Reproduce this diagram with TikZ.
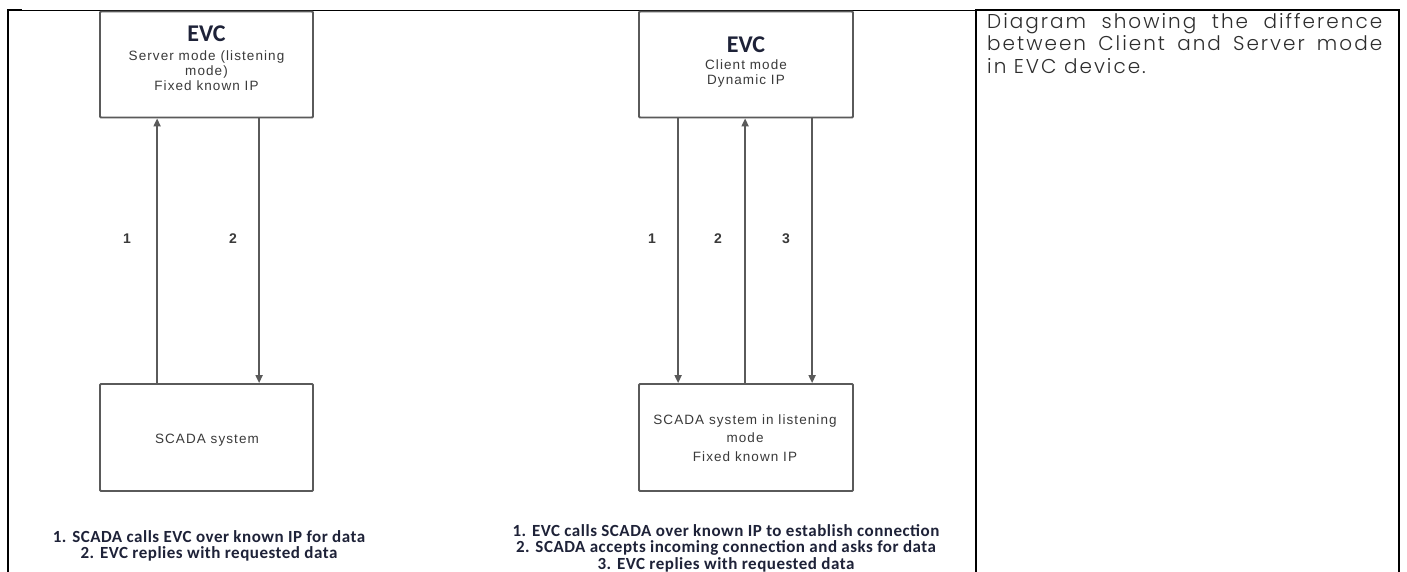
\documentclass[tikz,border=0pt]{standalone}
\usepackage{fontspec}
\setmainfont{Liberation Sans}
\newfontfamily\calfont{Carlito}
\newfontfamily\capfont[LetterSpace=3]{Carlito}
\newfontfamily\boxfont[LetterSpace=8]{Liberation Sans}
\newfontfamily\notefont[LetterSpace=10]{Poppins Light}
\usetikzlibrary{arrows.meta,calc}
\definecolor{ink}{HTML}{1E2238}
\definecolor{boxline}{HTML}{5A5A5A}
\definecolor{boxtxt}{HTML}{3A3A3A}
\definecolor{notetxt}{HTML}{2E2E2E}
\begin{document}
\begin{tikzpicture}[x=1pt,y=-1pt,
  rule/.style={line width=2pt,black},
  thinrule/.style={line width=1.1pt,black},
  modebox/.style={draw=boxline,line width=1.8pt,rounded corners=1pt,
    minimum width=213pt,minimum height=106pt,inner sep=0pt},
  title/.style={font=\calfont\bfseries\fontsize{24}{26}\selectfont,text=ink,inner sep=0pt},
  boxlabel/.style={font=\boxfont\fontsize{13.5}{15}\selectfont,text=boxtxt,align=center,inner sep=0pt},
  stepnum/.style={font=\bfseries\fontsize{14}{16}\selectfont,text=boxtxt,inner sep=0pt},
  caption/.style={font=\capfont\bfseries\fontsize{17}{16.5}\selectfont,text=ink,align=center,inner sep=0pt},
  flow/.style={draw=boxline,line width=1.8pt,-{Triangle[length=8pt,width=7pt]}},
  note/.style={font=\notefont\fontsize{20}{22.5}\selectfont,text=notetxt,
    text width=395pt,align=justify,inner sep=0pt},
]
\useasboundingbox (0,0) rectangle (1407,572);
\fill[white] (0,0) rectangle (1407,572);

% table frame
\draw[thinrule] (7,10.5) -- (976,10.5);
\draw[rule] (7,10.5) -- (22,10.5);
\draw[rule] (976,10.5) -- (1400,10.5);
\draw[rule] (8,9.5) -- (8,572);
\draw[rule] (976,9.5) -- (976,572);
\draw[rule] (1399,9.5) -- (1399,572);

% server mode
\node[modebox] (evcA) at (206.5,64.5) {};
\node[modebox,minimum height=107pt] (scadaA) at (206.5,437.5) {};
\node[title] (evcAt) at (206.5,33.5) {EVC};
\node[boxlabel] (evcAs) at (206.5,71) {Server mode (listening\\mode)\\Fixed known IP};
\node[boxlabel] (scadaAs) at (207,440) {SCADA system};
\draw[flow] ([xshift=58pt]scadaA.north west) -- ([xshift=58pt]evcA.south west);
\draw[flow] ([xshift=160pt]evcA.south west) -- ([xshift=160pt]scadaA.north west);
\node[stepnum] (nA1) at (127,239) {1};
\node[stepnum] (nA2) at (233,239) {2};
\node[caption,anchor=north] (capA) at (209,530)
  {1. SCADA calls EVC over known IP for data\\2. EVC replies with requested data};

% client mode
\node[modebox,minimum width=214pt] (evcB) at (746,64.5) {};
\node[modebox,minimum width=214pt,minimum height=107pt] (scadaB) at (746,437.5) {};
\node[title] (evcBt) at (746,45) {EVC};
\node[boxlabel] (evcBs) at (746,74) {Client mode\\Dynamic IP};
\node[boxlabel,font=\boxfont\fontsize{13.5}{18.5}\selectfont] (scadaBs) at (745,438)
  {SCADA system in listening\\mode\\Fixed known IP};
\draw[flow] ([xshift=40pt]evcB.south west) -- ([xshift=40pt]scadaB.north west);
\draw[flow] ([xshift=107pt]scadaB.north west) -- ([xshift=107pt]evcB.south west);
\draw[flow] ([xshift=174pt]evcB.south west) -- ([xshift=174pt]scadaB.north west);
\node[stepnum] (nB1) at (652,239) {1};
\node[stepnum] (nB2) at (718,239) {2};
\node[stepnum] (nB3) at (786,239) {3};
\node[caption,anchor=north] (capB) at (726,524)
  {1. EVC calls SCADA over known IP to establish connection\\
   2. SCADA accepts incoming connection and asks for data\\
   3. EVC replies with requested data};

% description column
\node[note,anchor=north west] (desc) at (987,13)
  {Diagram showing the difference\linebreak between Client and Server mode\linebreak in EVC device.};
\end{tikzpicture}
\end{document}
